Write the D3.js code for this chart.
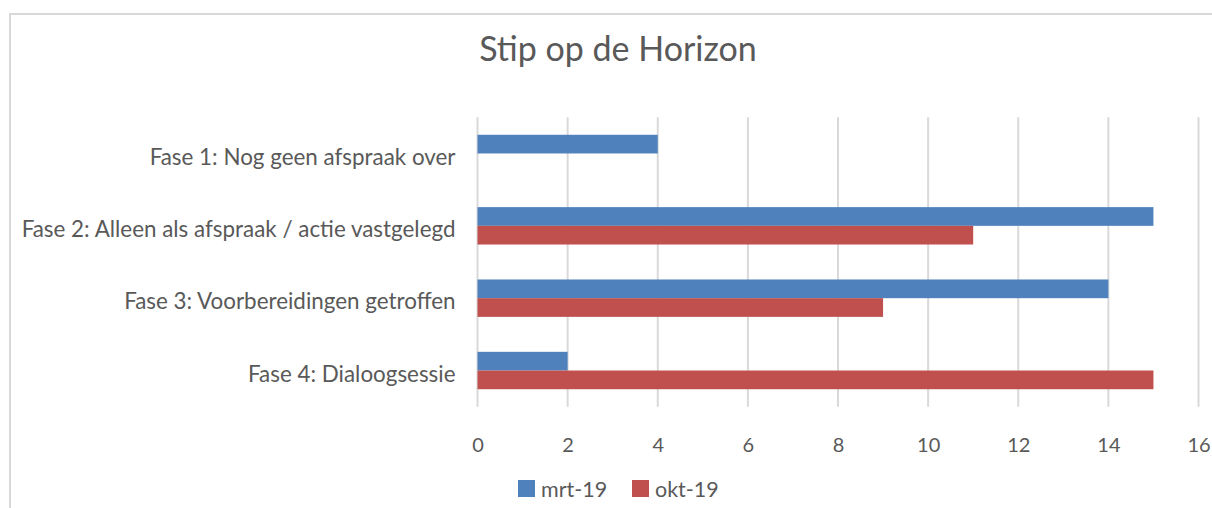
<!DOCTYPE html>
<html>
<head>
<meta charset="utf-8">
<script src="https://cdn.jsdelivr.net/npm/d3@7"></script>
<style>
  body { margin: 0; background: #fff; }
  svg text { font-family: Lato, "Open Sans", sans-serif; fill: #595959; }
</style>
</head>
<body>
<div id="chart"></div>
<script>
// chart data
var categories = ['Fase 1: Nog geen afspraak over',
                  'Fase 2: Alleen als afspraak / actie vastgelegd',
                  'Fase 3: Voorbereidingen getroffen',
                  'Fase 4: Dialoogsessie'];
var seriesNames = ['mrt-19', 'okt-19'];
var mrt19 = [4, 15, 14, 2];
var okt19 = [0, 11, 9, 15];
var xTicks = [0, 2, 4, 6, 8, 10, 12, 14, 16];
var colors = ['#4f81bd', '#c0504d'];

var width = 1212, height = 508;
var plot = { left: 477.5, right: 1198.5, top: 117.3, bottom: 406.7 };

var svg = d3.select('#chart').append('svg')
    .attr('width', width)
    .attr('height', height);

// outer chart frame (right/bottom are cut off in the picture)
svg.append('rect')
    .attr('x', 10).attr('y', 14)
    .attr('width', 1230).attr('height', 540)
    .attr('fill', 'none')
    .attr('stroke', '#d9d9d9')
    .attr('stroke-width', 2);

svg.append('text')
    .attr('x', 618).attr('y', 61)
    .attr('text-anchor', 'middle')
    .style('font-size', '34px')
    .text('Stip op de Horizon');

var x = d3.scaleLinear().domain([0, 16]).range([plot.left, plot.right]);
var y = d3.scaleBand().domain(categories).range([plot.top, plot.bottom]);
var inner = d3.scaleBand().domain(seriesNames)
    .range([0, y.bandwidth()]).paddingOuter(0.935);

// grid
svg.append('g').selectAll('line')
    .data(xTicks)
    .enter().append('line')
    .attr('x1', function (d) { return x(d); })
    .attr('x2', function (d) { return x(d); })
    .attr('y1', plot.top).attr('y2', plot.bottom)
    .attr('stroke', '#d9d9d9')
    .attr('stroke-width', 2);

// x axis labels via d3 axis, no lines
var xAxis = svg.append('g')
    .attr('transform', 'translate(0,' + plot.bottom + ')')
    .call(d3.axisBottom(x).tickValues(xTicks).tickSize(0).tickPadding(31));
xAxis.select('.domain').remove();
xAxis.selectAll('text').style('font-size', '20px').attr('fill', '#595959');

// y axis labels
var yAxis = svg.append('g')
    .attr('transform', 'translate(' + (plot.left - 22) + ',4)')
    .call(d3.axisLeft(y).tickSize(0).tickPadding(0));
yAxis.select('.domain').remove();
yAxis.selectAll('text').style('font-size', '22.4px').attr('fill', '#595959');

// bars
var rows = categories.map(function (c, i) {
    return { cat: c, vals: [mrt19[i], okt19[i]] };
});
var groups = svg.append('g').selectAll('g')
    .data(rows)
    .enter().append('g')
    .attr('transform', function (d) { return 'translate(0,' + y(d.cat) + ')'; });

groups.selectAll('rect')
    .data(function (d) {
        return d.vals.map(function (v, j) { return { name: seriesNames[j], value: v, j: j }; });
    })
    .enter().append('rect')
    .attr('x', x(0))
    .attr('y', function (d) { return inner(d.name); })
    .attr('height', inner.bandwidth())
    .attr('width', function (d) { return x(d.value) - x(0); })
    .attr('fill', function (d) { return colors[d.j]; });

// legend
var legend = svg.append('g').selectAll('g')
    .data(seriesNames)
    .enter().append('g')
    .attr('transform', function (d, i) { return 'translate(' + (518 + i * 114) + ',480)'; });
legend.append('rect')
    .attr('width', 17).attr('height', 17)
    .attr('fill', function (d, i) { return colors[i]; });
legend.append('text')
    .attr('x', 23).attr('y', 16.5)
    .style('font-size', '21.5px')
    .text(function (d) { return d; });
</script>
</body>
</html>
